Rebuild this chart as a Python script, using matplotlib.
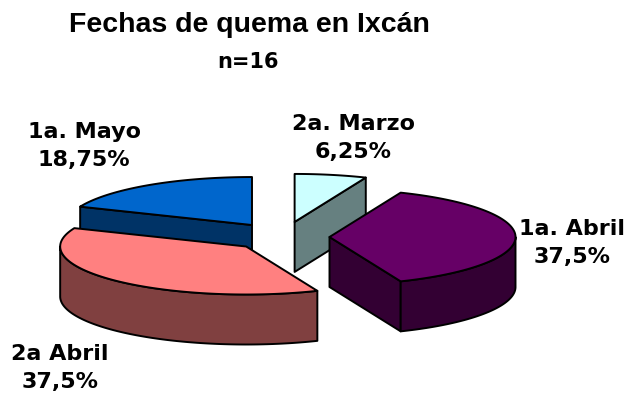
import numpy as np
import matplotlib.pyplot as plt
from matplotlib.patches import Polygon

# data: burning dates in Ixcan, n=16
labels = ['2a. Marzo', '1a. Abril', '2a Abril', '1a. Mayo']
counts = [1, 6, 6, 3]
top_colors = ['#CCFFFF', '#660066', '#FF8080', '#0066CC']
side_colors = ['#668080', '#330033', '#804040', '#003366']
explode = [0.32, 0.25, 0.28, 0.3]
label_pos = [(353, 138), (572, 243), (60, 368), (84, 146)]

# pie geometry in pixels
cx, cy = 283, 237
rx, ry = 186, 48
depth = 50

total = sum(counts)
fracs = np.array(counts) / total
edges = np.concatenate([[0], np.cumsum(fracs)]) * 360

fig = plt.figure(figsize=(6.3, 4.03), dpi=100)
ax = fig.add_axes([0, 0, 1, 1])
ax.set_xlim(0, 630)
ax.set_ylim(403, 0)
ax.axis('off')


def rim(tx, ty, angs, dz=0):
    a = np.radians(angs)
    return np.column_stack([tx + rx * np.sin(a), ty - ry * np.cos(a) + dz])


style = dict(ec='black', lw=1.4, joinstyle='round')

for i in [3, 0, 1, 2]:
    a1, a2 = edges[i], edges[i + 1]
    mid = np.radians((a1 + a2) / 2)
    tx = cx + explode[i] * rx * np.sin(mid)
    ty = cy - explode[i] * ry * np.cos(mid)

    # radial side walls facing the viewer
    for ang, vis in [(a1, np.sin(np.radians(a1)) < -1e-9),
                     (a2, np.sin(np.radians(a2)) > 1e-9)]:
        if vis:
            p = rim(tx, ty, [ang])[0]
            quad = [(tx, ty), p, (p[0], p[1] + depth), (tx, ty + depth)]
            ax.add_patch(Polygon(quad, fc=side_colors[i], **style))

    # curved outer wall (front half only)
    lo, hi = max(a1, 90), min(a2, 270)
    if hi > lo:
        angs = np.linspace(lo, hi, 120)
        wall = np.vstack([rim(tx, ty, angs), rim(tx, ty, angs[::-1], depth)])
        ax.add_patch(Polygon(wall, fc=side_colors[i], **style))

    # top face
    angs = np.linspace(a1, a2, 200)
    face = np.vstack([[tx, ty], rim(tx, ty, angs)])
    ax.add_patch(Polygon(face, fc=top_colors[i], **style))

for i in range(len(labels)):
    pct = f'{fracs[i] * 100:g}'.replace('.', ',')
    x, y = label_pos[i]
    ax.text(x, y, f'{labels[i]}\n{pct}%', ha='center', va='center',
            fontsize=16, fontweight='bold', family='DejaVu Sans',
            linespacing=1.45)

ax.text(249, 32, 'Fechas de quema en Ixcán', ha='center', va='baseline',
        fontsize=20.5, fontweight='bold', family='Liberation Sans')
ax.text(248, 68, f'n={total}', ha='center', va='baseline',
        fontsize=15, fontweight='bold', family='DejaVu Sans')

fig.savefig('out.png', dpi=100)
